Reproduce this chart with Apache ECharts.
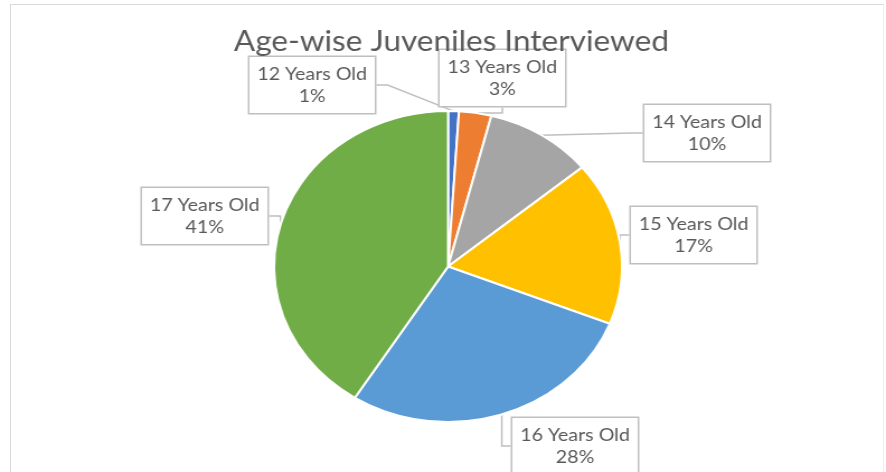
<!DOCTYPE html>
<html>
<head>
<meta charset="utf-8">
<script src="https://cdn.jsdelivr.net/npm/echarts@6/dist/echarts.min.js"></script>
<style>
  html, body { margin: 0; padding: 0; background: #ffffff; overflow: hidden; }
  #frame { position: absolute; left: 10px; top: 4px; width: 874px; height: 480px;
           border-left: 1.5px solid #d9d9d9; border-top: 1.5px solid #d9d9d9; border-right: 1px solid #eeeeee; box-sizing: border-box; }
  #chart { position: absolute; left: 0; top: 0; width: 792px; height: 472px;
           transform: scaleX(1.1187); transform-origin: 0 0; }
</style>
</head>
<body>
<div id="frame"></div>
<div id="chart"></div>
<script>
const categories = ['12 Years Old', '13 Years Old', '14 Years Old', '15 Years Old', '16 Years Old', '17 Years Old'];
const values = [1, 3, 10, 17, 28, 41];
const colors = ['#4472C4', '#ED7D31', '#A5A5A5', '#FFC000', '#5B9BD5', '#70AD47'];
const titleText = 'Age-wise Juveniles Interviewed';

// label box centers (unscaled chart coordinates)
const labelPos = [[279, 85], [449, 78], [632, 133], [620, 235], [514, 446], [183, 216]];

const chart = echarts.init(document.getElementById('chart'), null, { renderer: 'canvas' });
chart.setOption({
  animation: false,
  title: {
    text: titleText,
    left: 398.5,
    textAlign: 'center',
    top: 23,
    textStyle: { fontFamily: 'Lato', fontSize: 28.2, fontWeight: 'normal', color: '#595959' }
  },
  series: [{
    type: 'pie',
    center: [400.5, 266.5],
    radius: 155.5,
    startAngle: 90,
    clockwise: true,
    percentPrecision: 0,
    data: categories.map((c, i) => ({ name: c, value: values[i], itemStyle: { color: colors[i] } })),
    itemStyle: { borderColor: '#ffffff', borderWidth: 2 },
    label: {
      show: true,
      formatter: '{b}\n{d}%',
      fontFamily: 'Lato',
      fontSize: 17.5,
      color: '#595959',
      lineHeight: 22,
      align: 'center',
      width: 112,
      padding: [6, 0],
      backgroundColor: '#ffffff',
      borderColor: '#bfbfbf',
      borderWidth: 1.5
    },
    labelLine: { show: true, length: 10, length2: 10, lineStyle: { color: '#bfbfbf', width: 1.5 } },
    labelLayout: function (params) {
      const p = labelPos[params.dataIndex];
      return { x: p[0], y: p[1], align: 'center', verticalAlign: 'middle' };
    },
    emphasis: { disabled: true }
  }]
});
</script>
</body>
</html>
